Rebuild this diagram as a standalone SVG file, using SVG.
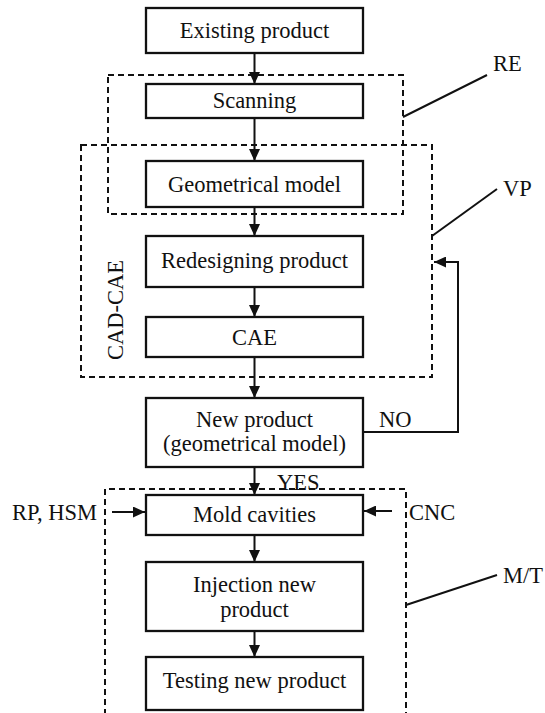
<svg xmlns="http://www.w3.org/2000/svg" width="545" height="713" viewBox="0 0 545 713">
<style>
.box{fill:#fff;stroke:#111;stroke-width:2.3}
.dash{fill:none;stroke:#111;stroke-width:2;stroke-dasharray:6 4}
.ln{fill:none;stroke:#111;stroke-width:2}
text{font-family:"Liberation Serif","Times New Roman",serif;font-size:22.5px;fill:#111}
.c{text-anchor:middle}
</style>
<defs>
<marker id="ah" viewBox="0 0 12 11" refX="12" refY="5.5" markerWidth="12" markerHeight="11" markerUnits="userSpaceOnUse" orient="auto">
<path d="M0,0 L12,5.5 L0,11 Z" fill="#111"/>
</marker>
</defs>
<rect width="545" height="713" fill="#fff"/>
<g id="groups">
<rect id="re-box" class="dash" x="108" y="75" width="295" height="139"/>
<rect id="vp-box" class="dash" x="81" y="145" width="351" height="232"/>
<path id="mt-box" class="dash" d="M105,715 V489 H406 V715"/>
<text class="c" transform="translate(123,310) rotate(-90)">CAD-CAE</text>
</g>
<g id="connectors">
<line class="ln" x1="254.5" y1="53" x2="254.5" y2="84" marker-end="url(#ah)"/>
<line class="ln" x1="254.5" y1="118" x2="254.5" y2="161" marker-end="url(#ah)"/>
<line class="ln" x1="254.5" y1="207" x2="254.5" y2="236" marker-end="url(#ah)"/>
<line class="ln" x1="254.5" y1="287" x2="254.5" y2="317" marker-end="url(#ah)"/>
<line class="ln" x1="254.5" y1="357" x2="254.5" y2="398" marker-end="url(#ah)"/>
<line class="ln" x1="254.5" y1="467" x2="254.5" y2="495" marker-end="url(#ah)"/>
<line class="ln" x1="254.5" y1="535" x2="254.5" y2="562" marker-end="url(#ah)"/>
<line class="ln" x1="254.5" y1="631" x2="254.5" y2="657" marker-end="url(#ah)"/>
<path class="ln" d="M363,432 H458 V262 H434" marker-end="url(#ah)"/>
<line class="ln" x1="112" y1="512" x2="145" y2="512" marker-end="url(#ah)"/>
<line class="ln" x1="392" y1="511" x2="364" y2="511" marker-end="url(#ah)"/>
<line class="ln" x1="403" y1="117" x2="487" y2="75"/>
<line class="ln" x1="432" y1="236" x2="497" y2="189"/>
<line class="ln" x1="406" y1="605" x2="497" y2="575"/>
<text x="379" y="427">NO</text>
<text x="277" y="490">YES</text>
</g>
<g id="n-existing"><rect class="box" x="146" y="8" width="217" height="45"/><text class="c" x="254.5" y="38">Existing product</text></g>
<g id="n-scanning"><rect class="box" x="146" y="84" width="217" height="34"/><text class="c" x="254.5" y="108">Scanning</text></g>
<g id="n-geom"><rect class="box" x="146" y="161" width="217" height="46"/><text class="c" x="254.5" y="192">Geometrical model</text></g>
<g id="n-redesign"><rect class="box" x="146" y="236" width="217" height="51"/><text class="c" x="254.5" y="268">Redesigning product</text></g>
<g id="n-cae"><rect class="box" x="146" y="317" width="217" height="40"/><text class="c" x="254.5" y="345">CAE</text></g>
<g id="n-newproduct"><rect class="box" x="146" y="398" width="217" height="69"/><text class="c" x="254.5" y="427">New product</text><text class="c" x="254.5" y="451">(geometrical model)</text></g>
<g id="n-mold"><rect class="box" x="146" y="495" width="217" height="40"/><text class="c" x="254.5" y="522">Mold cavities</text></g>
<g id="n-injection"><rect class="box" x="146" y="562" width="217" height="69"/><text class="c" x="254.5" y="592">Injection new</text><text class="c" x="254.5" y="617">product</text></g>
<g id="n-testing"><rect class="box" x="146" y="657" width="217" height="53"/><text class="c" x="254.5" y="688">Testing new product</text></g>
<g id="labels">
<text x="493" y="71">RE</text>
<text x="503" y="196">VP</text>
<text x="503" y="583">M/T</text>
<text x="97" y="520" text-anchor="end">RP, HSM</text>
<text x="409" y="520">CNC</text>
</g>
</svg>
